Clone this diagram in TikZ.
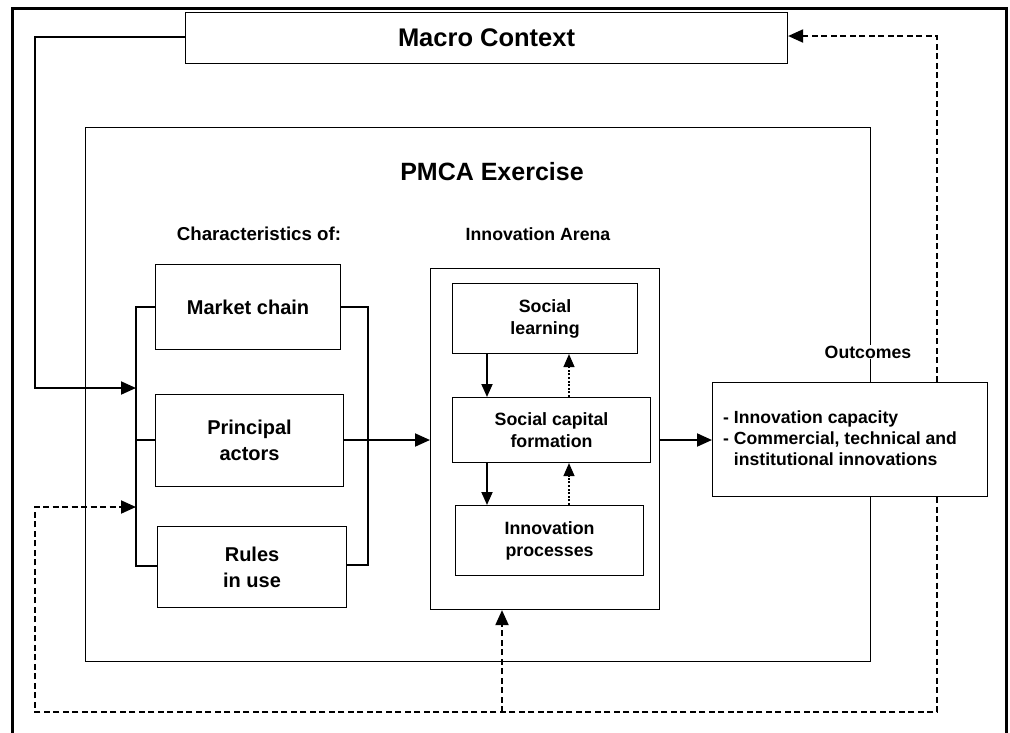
\documentclass[tikz,border=0pt]{standalone}
\usepackage{fontspec}
\setmainfont{Liberation Sans}
\usetikzlibrary{arrows.meta}
\begin{document}
\begin{tikzpicture}[x=1pt,y=-1pt,
  box/.style={draw, line width=1.1pt, inner sep=0pt, anchor=north west, align=center, font=\bfseries\fontsize{20}{26}\selectfont},
  ibox/.style={box, font=\bfseries\fontsize{17.8}{22}\selectfont},
  lbl/.style={inner sep=0pt, font=\bfseries\fontsize{17.7}{20}\selectfont},
  conn/.style={line width=2pt},
  arr/.style={conn, -{Triangle[length=15pt,width=13pt]}},
  dsh/.style={line width=2pt, dash pattern=on 6pt off 3.5pt},
  darr/.style={dsh, -{Triangle[length=15pt,width=13pt]}},
  dot/.style={line width=1.3pt, dash pattern=on 2pt off 1.6pt, -{Triangle[length=13pt,width=11pt]}},
  sol/.style={line width=1.8pt, -{Triangle[length=13pt,width=11pt]}}
]
\useasboundingbox (0,0) rectangle (1010,732);
% outer frame
\draw[line width=3pt] (12,740) -- (12,8) -- (1006,8) -- (1006,740);

% boxes
\node[box, minimum width=602pt, minimum height=51pt, font=\bfseries\fontsize{25.5}{28}\selectfont] (macro) at (185,12) {Macro Context};
\node[box, minimum width=785pt, minimum height=534pt] (pmca) at (85,127) {};
\node[lbl, font=\bfseries\fontsize{25}{28}\selectfont] (pmcat) at (492,172) {PMCA Exercise};
\node[lbl, font=\bfseries\fontsize{18.7}{20}\selectfont] (chars) at (259,234) {Characteristics of:};
\node[lbl] (arenat) at (538,234) {Innovation Arena};

\node[box, minimum width=185pt, minimum height=85pt] (market) at (155,264) {Market chain};
\node[box, minimum width=188pt, minimum height=92pt] (principal) at (155,394) {Principal\\actors};
\node[box, minimum width=189pt, minimum height=81pt] (rules) at (157,526) {Rules\\in use};

\node[box, minimum width=229pt, minimum height=341pt] (arena) at (430,268) {};
\node[ibox, minimum width=185pt, minimum height=70pt] (social) at (452,283) {Social\\learning};
\node[ibox, minimum width=198pt, minimum height=65pt] (capital) at (452,397) {Social capital\\formation};
\node[ibox, minimum width=188pt, minimum height=70pt] (process) at (455,505) {Innovation\\processes};

\node[lbl, fill=white, inner sep=1pt] (outt) at (868,352) {Outcomes};
\node[box, fill=white, minimum width=275pt, minimum height=114pt] (outcomes) at (712,382) {};
\node[inner sep=0pt, anchor=west, align=left, font=\bfseries\fontsize{17.6}{21}\selectfont] (outtext) at (723,438)
  {- Innovation capacity\\- Commercial, technical and\\\phantom{- }institutional innovations};

% connection points
\coordinate (mc1) at (35,37);
\coordinate (mc2) at (35,388);
\coordinate (bl) at (136,388);
\coordinate (bl2) at (136,507);
\coordinate (d1) at (937,36);
\coordinate (d2) at (937,712);
\coordinate (d3) at (35,712);
\coordinate (d4) at (35,507);
\coordinate (d5) at (502,712);

% left bracket
\draw[conn] (market.west |- 0,307) -- (136,307) -- (136,566) -- (rules.west |- 0,566);
\draw[conn] (136,440) -- (principal.west |- 0,440);
% right bracket
\draw[conn] (market.east |- 0,307) -- (368,307) -- (368,565) -- (rules.east |- 0,565);

% macro to characteristics
\draw[arr] (macro.west |- mc1) -- (mc1) -- (mc2) -- (bl);
% principal to arena
\draw[arr] (principal.east |- 0,440) -- (arena.west |- 0,440);
% arena to outcomes
\draw[arr] (arena.east |- 0,440) -- (outcomes.west |- 0,440);

% inner arrows
\draw[sol] (social.south -| 487,0) -- (capital.north -| 487,0);
\draw[sol] (capital.south -| 487,0) -- (process.north -| 487,0);
\draw[dot] (process.north -| 569,0) -- (capital.south -| 569,0);
\draw[dot] (capital.north -| 569,0) -- (social.south -| 569,0);

% feedback dashed
\draw[darr] (outcomes.north -| d1) -- (d1) -- (macro.east |- d1);
\draw[darr] (outcomes.south -| d2) -- (d2) -- (d3) -- (d4) -- (bl2);
\draw[darr] (d5) -- (arena.south -| d5);
\end{tikzpicture}
\end{document}
